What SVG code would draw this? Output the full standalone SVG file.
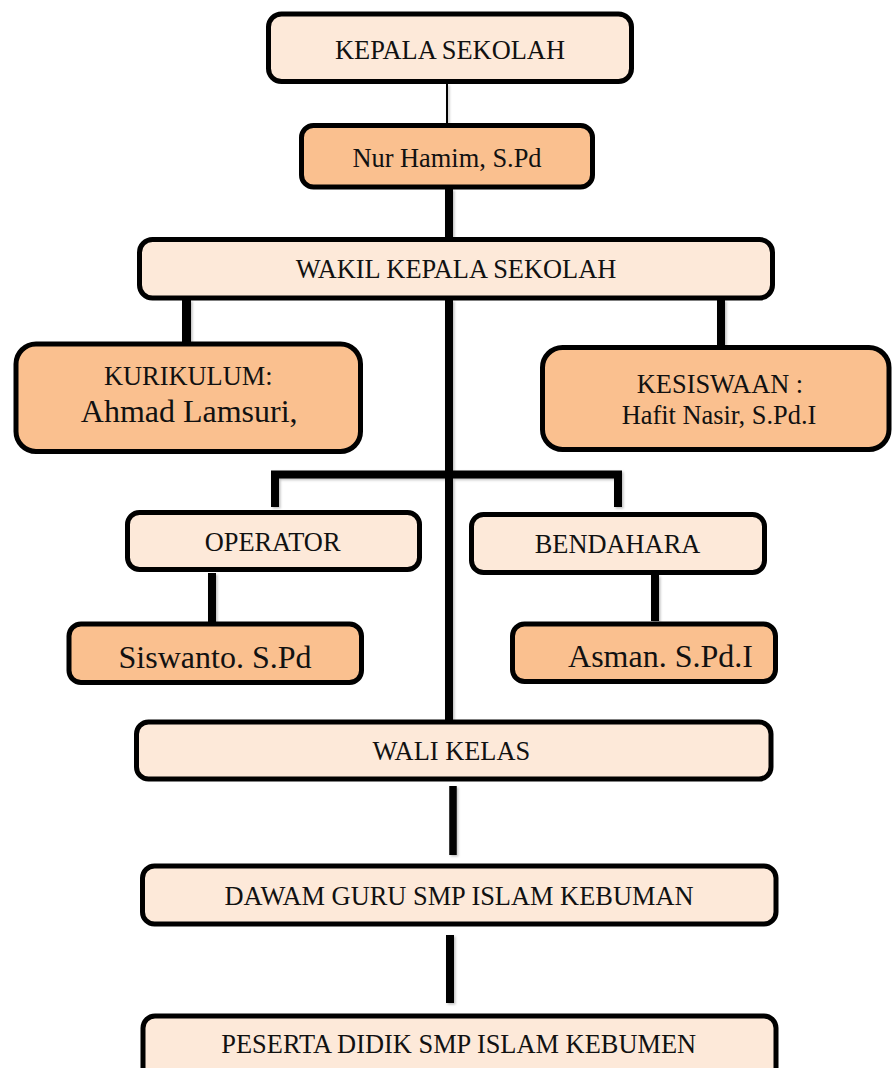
<svg xmlns="http://www.w3.org/2000/svg" width="893" height="1068" viewBox="0 0 893 1068">
  <defs>
    <filter id="sh" x="-20%" y="-20%" width="140%" height="140%">
      <feDropShadow dx="1.5" dy="1.5" stdDeviation="1.2" flood-color="#000" flood-opacity="0.25"/>
    </filter>
    <style>
      .light { fill: #FDE9D9; stroke: #000; stroke-width: 5; }
      .peach { fill: #FAC08F; stroke: #000; stroke-width: 5; }
      .t { font-family: "Liberation Serif", "Times New Roman", serif; font-size: 26.4px; fill: #111; text-anchor: middle; }
      .big { font-size: 32px; }
      .c { stroke: #000; fill: none; stroke-width: 8; stroke-linejoin: miter; stroke-linecap: butt; }
    </style>
  </defs>
  <rect width="893" height="1068" fill="#fff"/>

  <g id="connectors" filter="url(#sh)">
    <line class="c" x1="447" y1="84" x2="447" y2="125" style="stroke-width:2"/>
    <line class="c" x1="449" y1="189" x2="449" y2="238"/>
    <line class="c" x1="186.5" y1="300" x2="186.5" y2="343" style="stroke-width:9"/>
    <line class="c" x1="721" y1="300" x2="721" y2="346"/>
    <line class="c" x1="449" y1="300" x2="449" y2="721"/>
    <path class="c" d="M275,507 V474.5 H618 V507"/>
    <line class="c" x1="212" y1="573" x2="212" y2="622"/>
    <line class="c" x1="655" y1="575" x2="655" y2="621"/>
    <line class="c" x1="453" y1="786" x2="453" y2="855" style="stroke-width:7.5"/>
    <line class="c" x1="450" y1="935" x2="450" y2="1003"/>
  </g>

  <g id="kepala">
    <rect class="light" x="268.5" y="14" width="363" height="67.5" rx="13"/>
    <text class="t" x="450" y="59">KEPALA SEKOLAH</text>
  </g>
  <g id="nur-hamim">
    <rect class="peach" x="301.5" y="125.5" width="291" height="61.5" rx="12"/>
    <text class="t" x="447" y="167">Nur Hamim, S.Pd</text>
  </g>
  <g id="wakil">
    <rect class="light" x="139.5" y="239.5" width="633" height="58.5" rx="13"/>
    <text class="t" x="456" y="278">WAKIL KEPALA SEKOLAH</text>
  </g>
  <g id="kurikulum">
    <rect class="peach" x="16" y="344" width="344.5" height="107.5" rx="20"/>
    <text class="t" x="188.3" y="385">KURIKULUM:</text>
    <text class="t big" x="189.2" y="421.7">Ahmad Lamsuri,</text>
  </g>
  <g id="kesiswaan">
    <rect class="peach" x="542.5" y="347.5" width="346.5" height="102" rx="20"/>
    <text class="t" x="720" y="392.7">KESISWAAN :</text>
    <text class="t" x="719" y="424.3">Hafit Nasir, S.Pd.I</text>
  </g>
  <g id="operator">
    <rect class="light" x="127.5" y="512.5" width="292" height="57" rx="12"/>
    <text class="t" x="272.6" y="550.7">OPERATOR</text>
  </g>
  <g id="bendahara">
    <rect class="light" x="471.5" y="514.5" width="293" height="58" rx="12"/>
    <text class="t" x="617.5" y="552.7">BENDAHARA</text>
  </g>
  <g id="siswanto">
    <rect class="peach" x="69" y="624" width="292.5" height="58.5" rx="12"/>
    <text class="t big" x="215" y="667.7">Siswanto. S.Pd</text>
  </g>
  <g id="asman">
    <rect class="peach" x="512.5" y="624" width="263" height="57.5" rx="12"/>
    <text class="t big" x="660.5" y="667.3">Asman. S.Pd.I</text>
  </g>
  <g id="wali-kelas">
    <rect class="light" x="136.5" y="722" width="634.5" height="57" rx="12"/>
    <text class="t" x="451.4" y="760">WALI KELAS</text>
  </g>
  <g id="dawam-guru">
    <rect class="light" x="142.5" y="866" width="633.5" height="58" rx="12"/>
    <text class="t" x="459" y="905">DAWAM GURU SMP ISLAM KEBUMAN</text>
  </g>
  <g id="peserta-didik">
    <rect class="light" x="143" y="1016" width="633" height="70" rx="12"/>
    <text class="t" x="458.7" y="1053.3">PESERTA DIDIK SMP ISLAM KEBUMEN</text>
  </g>
</svg>
